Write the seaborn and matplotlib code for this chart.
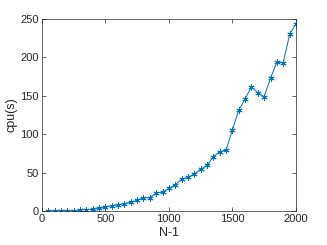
import numpy as np
import pandas as pd
import matplotlib
matplotlib.use('Agg')
import matplotlib.pyplot as plt
import seaborn as sns

# data
n = list(range(50, 2001, 50))
cpu = [0.05, 0.1, 0.2, 0.4, 0.5, 0.9, 1.7, 2.2, 3.5, 4.8,
       7.0, 7.8, 9.6, 11.3, 13.9, 17.0, 17.3, 23.4, 24.3, 29.5,
       34.0, 41.2, 43.9, 48.2, 54.3, 59.5, 70.7, 77.0, 79.4, 105.5,
       131.5, 146.0, 162.0, 154.0, 149.0, 173.0, 194.0, 193.0, 230.0, 244.0]
xticks = [0, 500, 1000, 1500, 2000]
yticks = [0, 50, 100, 150, 200, 250]

df = pd.DataFrame({'N-1': n, 'cpu(s)': cpu})

sns.set_style('ticks')
plt.rcParams['font.family'] = ['Liberation Sans', 'DejaVu Sans']

fig = plt.figure(figsize=(3.27, 2.45), dpi=100)
ax = fig.add_axes([0.128, 0.139, 0.777, 0.783])

# asterisk marker like matlab's '*'
sns.lineplot(data=df, x='N-1', y='cpu(s)', ax=ax, color='#0072BD',
             marker=(6, 2, 0), markersize=4.5, markeredgecolor='#0072BD',
             markeredgewidth=0.6, linewidth=0.7)

ax.set_xlim(0, 2000)
ax.set_ylim(0, 250)
ax.set_xticks(xticks)
ax.set_yticks(yticks)
ax.tick_params(direction='in', length=3, width=0.5, top=True, right=True,
               labelsize=8, colors='0.15', pad=2)
for s in ax.spines.values():
    s.set_visible(True)
    s.set_linewidth(0.5)
    s.set_color('0.15')
ax.set_xlabel('N-1', fontsize=9, color='0.15', labelpad=2)
ax.set_ylabel('cpu(s)', fontsize=9, color='0.15', labelpad=2)

fig.savefig('out.png', dpi=100)
